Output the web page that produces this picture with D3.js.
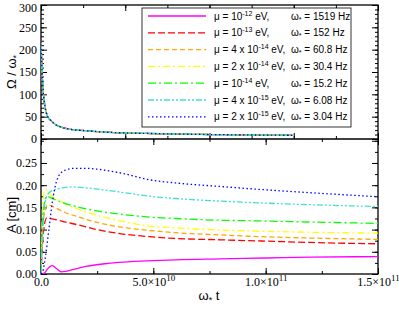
<!DOCTYPE html>
<html>
<head>
<meta charset="utf-8">
<script src="https://cdn.jsdelivr.net/npm/d3@7"></script>
<style>
  body { margin: 0; background: #fff; }
  svg { display: block; }
</style>
</head>
<body>
<svg id="chart" width="399" height="309"></svg>
<script>
// x values are in units of 1e10
const muCoef = ['', '', '4 x ', '2 x ', '', '4 x ', '2 x ']
const muExp = ['-12', '-13', '-14', '-14', '-14', '-15', '-15']
const freqs = ['1519', '152', '60.8', '30.4', '15.2', '6.08', '3.04']
const colors = ['#ff00ff', '#ff0000', '#ffa500', '#ffff00', '#00ff00', '#40e0d0', '#0000ff']
const dashes = [null, '7,3', '5,3', '7,3,2,3', '8,3,2,3', '6,2,2,2,2,2', '1.5,2.5']

// top panel: Omega / omega* (all masses overlap)
const omegaT = [0, 0.05, 0.1, 0.2, 0.3, 0.5, 0.7, 1, 1.5, 2, 3, 4, 5, 6, 8, 10, 12]
const omegaV = [220, 150, 110, 70, 52, 40, 32, 26, 21, 19, 15.5, 13.5, 12.5, 11.5, 10, 9, 8.3]

// bottom panel: amplitude A [cm]
const ampT = [
    [0, 0.15, 0.3, 0.5, 0.7, 0.9, 1.1, 1.5, 2, 3, 4, 5, 6, 8, 10, 12, 15],
    [0, 0.1, 0.25, 0.5, 1, 1.7, 2.5, 3.5, 4.85, 6, 8, 10, 12, 15],
    [0, 0.1, 0.3, 0.6, 1, 1.7, 2.5, 3.5, 4.85, 6, 8, 9.3, 12, 15],
    [0, 0.1, 0.2, 0.5, 1, 1.7, 2.5, 3.5, 4.85, 6, 8, 9.3, 12, 15],
    [0, 0.1, 0.25, 0.5, 1, 1.7, 2.5, 3.5, 4.85, 6, 8, 9.3, 12, 15],
    [0, 0.1, 0.2, 0.4, 0.8, 1.4, 2, 3, 4, 4.85, 6, 8, 9.3, 12, 15],
    [0, 0.1, 0.2, 0.35, 0.5, 0.7, 1, 1.5, 2, 2.5, 3.5, 4.85, 6, 8, 9.3, 12, 15]
]
const ampV = [
    [0, 0.002, 0.012, 0.019, 0.012, 0.005, 0.006, 0.011, 0.017, 0.024, 0.028, 0.030, 0.032, 0.034, 0.036, 0.038, 0.039],
    [0, 0.09, 0.126, 0.124, 0.118, 0.110, 0.100, 0.091, 0.084, 0.080, 0.077, 0.074, 0.071, 0.068],
    [0, 0.12, 0.156, 0.150, 0.140, 0.128, 0.116, 0.106, 0.098, 0.093, 0.088, 0.085, 0.081, 0.078],
    [0, 0.17, 0.19, 0.175, 0.160, 0.145, 0.132, 0.120, 0.108, 0.104, 0.099, 0.097, 0.094, 0.092],
    [0, 0.14, 0.175, 0.170, 0.160, 0.150, 0.142, 0.135, 0.128, 0.125, 0.121, 0.120, 0.117, 0.114],
    [0, 0.12, 0.165, 0.185, 0.192, 0.196, 0.194, 0.188, 0.181, 0.175, 0.170, 0.164, 0.161, 0.156, 0.152],
    [0, 0.01, 0.04, 0.10, 0.16, 0.21, 0.232, 0.238, 0.238, 0.236, 0.228, 0.212, 0.205, 0.197, 0.192, 0.183, 0.174]
]

const left = 41, right = 378
const topY0 = 5, topY1 = 139, botY0 = 139, botY1 = 274
const serif = 'Liberation Serif, Times New Roman, serif'
const sans = 'Liberation Sans, Arial, sans-serif'

const svg = d3.select('#chart')

const xTop = d3.scaleLinear().domain([0, 16]).range([left, right])
const yTop = d3.scaleLinear().domain([0, 300]).range([topY1, topY0])
const xBot = d3.scaleLinear().domain([0, 15]).range([left, right])
const yBot = d3.scaleLinear().domain([0, 0.304]).range([botY1, botY0])

const defs = svg.append('defs')
defs.append('clipPath').attr('id', 'clipTop').append('rect')
    .attr('x', left).attr('y', topY0).attr('width', right - left).attr('height', topY1 - topY0)
defs.append('clipPath').attr('id', 'clipBot').append('rect')
    .attr('x', left).attr('y', botY0).attr('width', right - left).attr('height', botY1 - botY0)

// tick helper: draws inward ticks, optional labels
function ticks(axisFn, scale, values, size, pos, showLabels) {
    const g = svg.append('g')
        .attr('transform', pos)
        .call(axisFn(scale).tickValues(values).tickSize(-size).tickFormat(showLabels || (() => '')).tickPadding(4))
    g.select('.domain').remove()
    g.selectAll('line').attr('stroke', '#000')
    return g
}

function range(a, b, s) {
    const out = []
    for (let v = a; v <= b + 1e-9; v += s) out.push(+v.toFixed(4))
    return out
}

// ---- top panel axes
ticks(d3.axisLeft, yTop, range(0, 300, 50), 6, `translate(${left},0)`, d => d)
    .selectAll('text').style('font-family', serif).style('font-size', '12px').attr('fill', '#000')
    .filter(d => d === 300).attr('dy', '0.5em')
ticks(d3.axisLeft, yTop, range(0, 300, 10), 3, `translate(${left},0)`)
ticks(d3.axisRight, yTop, range(0, 300, 50), 6, `translate(${right},0)`)
ticks(d3.axisRight, yTop, range(0, 300, 10), 3, `translate(${right},0)`)
ticks(d3.axisBottom, xTop, range(0, 16, 4), 6, `translate(0,${topY1})`)
ticks(d3.axisBottom, xTop, range(0, 16, 2), 3, `translate(0,${topY1})`)
ticks(d3.axisTop, xTop, range(0, 16, 4), 6, `translate(0,${topY0})`)
ticks(d3.axisTop, xTop, range(0, 16, 2), 3, `translate(0,${topY0})`)

// ---- bottom panel axes
ticks(d3.axisLeft, yBot, range(0, 0.25, 0.05), 6, `translate(${left},0)`, d => d3.format('.2f')(d))
    .selectAll('text').style('font-family', serif).style('font-size', '12px').attr('fill', '#000')
ticks(d3.axisLeft, yBot, range(0, 0.3, 0.025), 3, `translate(${left},0)`)
ticks(d3.axisRight, yBot, range(0, 0.3, 0.05), 6, `translate(${right},0)`)
ticks(d3.axisRight, yBot, range(0, 0.3, 0.025), 3, `translate(${right},0)`)
ticks(d3.axisTop, xBot, range(0, 15, 5), 6, `translate(0,${botY0})`)
ticks(d3.axisTop, xBot, range(0, 15, 2.5), 3, `translate(0,${botY0})`)
ticks(d3.axisBottom, xBot, range(0, 15, 2.5), 3, `translate(0,${botY1})`)
const xb = ticks(d3.axisBottom, xBot, range(0, 15, 5), 6, `translate(0,${botY1})`, d => d)
xb.selectAll('text')
    .style('font-family', serif).style('font-size', '12px').attr('fill', '#000')
    .attr('y', 3)
    .each(function (d) {
        const t = d3.select(this).text('')
        if (d === 0) { t.text('0.0'); return }
        const mant = d >= 10 ? d / 10 : d
        const ex = d >= 10 ? 11 : 10
        t.append('tspan').text(d3.format('.1f')(mant) + '\u00d710')
        t.append('tspan').attr('dy', -5).style('font-size', '9px').text(ex)
    })

// ---- frames
svg.append('rect').attr('x', left).attr('y', topY0).attr('width', right - left).attr('height', botY1 - topY0)
    .attr('fill', 'none').attr('stroke', '#000').attr('stroke-width', 1.3)
svg.append('line').attr('x1', left).attr('x2', right).attr('y1', topY1).attr('y2', topY1)
    .attr('stroke', '#000').attr('stroke-width', 1.3)

// ---- curves
const topLine = d3.line().x(d => xTop(d[0])).y(d => yTop(d[1])).curve(d3.curveMonotoneX)
const botLine = d3.line().x(d => xBot(d[0])).y(d => yBot(d[1])).curve(d3.curveMonotoneX)
const omegaData = omegaT.map((t, i) => [t, omegaV[i]])

colors.forEach((c, i) => {
    svg.append('path')
        .attr('clip-path', 'url(#clipTop)')
        .attr('d', topLine(omegaData))
        .attr('fill', 'none').attr('stroke', c).attr('stroke-width', 1.3)
        .attr('stroke-dasharray', dashes[i])
        .attr('stroke-dashoffset', i * 2)
    svg.append('path')
        .attr('clip-path', 'url(#clipBot)')
        .attr('d', botLine(ampT[i].map((t, j) => [t, ampV[i][j]])))
        .attr('fill', 'none').attr('stroke', c).attr('stroke-width', 1.3)
        .attr('stroke-dasharray', dashes[i])
})

// ---- legend
const lgX = 142, lgY = 8, lgW = 209, lgH = 119
svg.append('rect').attr('x', lgX).attr('y', lgY).attr('width', lgW).attr('height', lgH)
    .attr('fill', '#fff').attr('stroke', '#000').attr('stroke-width', 0.8)
colors.forEach((c, i) => {
    const y = 16 + i * 16.8
    svg.append('line').attr('x1', 148).attr('x2', 206).attr('y1', y).attr('y2', y)
        .attr('stroke', c).attr('stroke-width', 1.3).attr('stroke-dasharray', dashes[i])
    const t = svg.append('text').attr('x', 214).attr('y', y + 3.5)
        .style('font-family', sans).style('font-size', '10px').attr('fill', '#000')
    t.append('tspan').text('\u03bc = ' + muCoef[i] + '10')
    t.append('tspan').attr('dy', -4).style('font-size', '7px').text(muExp[i])
    t.append('tspan').attr('dy', 4).text(' eV,')
    const w = svg.append('text').attr('x', 291).attr('y', y + 3.5)
        .style('font-family', sans).style('font-size', '10px').attr('fill', '#000')
    w.append('tspan').text('\u03c9')
    w.append('tspan').attr('dy', 2).style('font-size', '7px').text('*')
    w.append('tspan').attr('dy', -2).text(' = ' + freqs[i] + ' Hz')
})

// ---- axis titles
const ty = svg.append('text').attr('transform', 'translate(16,72) rotate(-90)')
    .attr('text-anchor', 'middle').style('font-family', sans).style('font-size', '13px')
ty.append('tspan').text('\u03a9 / \u03c9')
ty.append('tspan').attr('dy', 3).style('font-size', '9px').text('*')

svg.append('text').attr('transform', 'translate(16,215) rotate(-90)')
    .attr('text-anchor', 'middle').style('font-family', sans).style('font-size', '13px')
    .text('A [cm]')

const tx = svg.append('text').attr('x', 209).attr('y', 300)
    .attr('text-anchor', 'middle').style('font-family', sans).style('font-size', '13px')
tx.append('tspan').text('\u03c9')
tx.append('tspan').attr('dy', 3).style('font-size', '9px').text('*')
tx.append('tspan').attr('dy', -3).text(' t')
</script>
</body>
</html>
